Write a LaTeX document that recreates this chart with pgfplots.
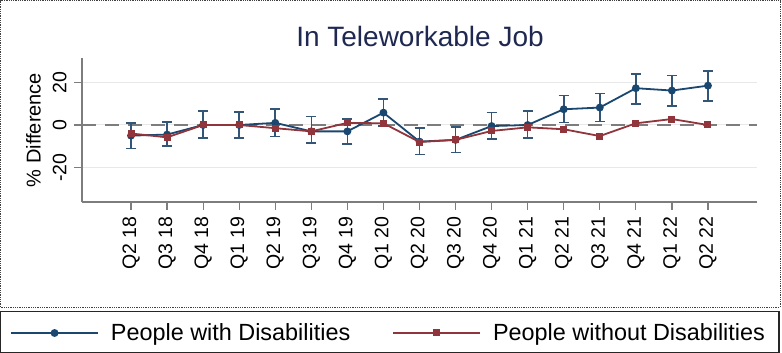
\documentclass[border=0pt]{standalone}
\usepackage{fontspec}
\setmainfont{Liberation Sans}
\usepackage{pgfplots}
\pgfplotsset{compat=1.18}
\usepackage{pgfplotstable}
\definecolor{sblue}{RGB}{26,71,111}
\definecolor{ebar}{RGB}{50,85,120}
\definecolor{sred}{RGB}{144,53,59}
\definecolor{titlec}{RGB}{30,40,80}
\definecolor{axgray}{RGB}{125,125,125}
\definecolor{gridc}{RGB}{232,232,232}

\pgfplotstableread{
x y ep em
0 -5 6 6
1 -4.5 6 5.5
2 0 6.6 6
3 0 6.2 6
4 1 6.4 6.5
5 -3 7 5.6
6 -3 5.7 6
7 5.8 6.4 6.3
8 -7.8 6.5 6
9 -7 6.2 6
10 -0.5 6.3 6.2
11 0 6.7 6
12 7.4 6.4 6.3
13 8.2 6.7 6.6
14 17.3 6.7 7.4
15 16.2 7 7.3
16 18.5 6.9 7.1
}\bluedata

\pgfplotstableread{
x y
0 -4
1 -5.8
2 0
3 0
4 -1.5
5 -3
6 1
7 0.8
8 -8
9 -7
10 -2.8
11 -1.1
12 -2
13 -5.2
14 0.8
15 2.8
16 0
}\reddata

\begin{document}
\begin{tikzpicture}
\useasboundingbox (0,0) rectangle (782pt,353pt);
\fill[white] (0,0) rectangle (782pt,353pt);
\draw[densely dotted, black!75, line width=0.8pt] (0.6pt,46pt) rectangle (780pt,352.4pt);
\draw[black!85, line width=1.3pt] (0.6pt,0.6pt) rectangle (779pt,41.5pt);
\node[font=\fontsize{28}{28}\selectfont, text=titlec] at (420pt,317pt) {In Teleworkable Job};
\begin{axis}[
  scale only axis, width=675pt, height=144pt,
  at={(82pt,151pt)}, anchor=south west,
  xmin=-1.36, xmax=17.36, ymin=-36.2, ymax=31.5,
  axis x line*=bottom, axis y line*=left,
  axis line style={axgray, line width=1.3pt},
  xtick={0,...,16},
  xticklabels={Q2 18,Q3 18,Q4 18,Q1 19,Q2 19,Q3 19,Q4 19,Q1 20,Q2 20,Q3 20,Q4 20,Q1 21,Q2 21,Q3 21,Q4 21,Q1 22,Q2 22},
  ytick={-20,0,20}, yticklabels={-20,0,20},
  tick align=outside, major tick length=8pt,
  tick style={axgray, line width=1.2pt},
  ymajorgrids, grid style={gridc, line width=1pt},
  tick label style={font=\fontsize{19.5}{19.5}\selectfont},
  xticklabel style={rotate=90, anchor=east, xshift=-3pt},
  yticklabel style={rotate=90, anchor=south, yshift=4pt},
  ylabel={\% Difference},
  ylabel style={font=\fontsize{20}{20}\selectfont, at={(axis description cs:-0.072,0.5)}, anchor=center},
  legend style={at={(axis description cs:-0.1067,-0.9097)}, anchor=west, draw=none, fill=none,
    font=\fontsize{23.4}{23.4}\selectfont, legend columns=2,
    /tikz/every even column/.append style={column sep=40pt},
    /tikz/every odd column/.append style={column sep=10pt},
    inner sep=0pt},
  legend cell align=left,
  legend image code/.code={\draw[mark repeat=2,mark phase=2,#1] plot coordinates {(0pt,0pt) (43.5pt,0pt) (87pt,0pt)};},
  clip=false,
]
\addplot[axgray, line width=1.3pt, dash pattern=on 14pt off 9pt, forget plot] coordinates {(-1.36,0) (17.36,0)};
\addplot[sblue, line width=1.8pt, mark=*, mark size=3pt,
  error bars/.cd, y dir=both, y explicit,
  error bar style={line width=1.6pt, ebar},
  error mark options={rotate=90, line width=1.6pt, mark size=5pt, ebar}]
  table[x=x, y=y, y error plus=ep, y error minus=em] {\bluedata};
\addlegendentry{People with Disabilities}
\addplot[sred, line width=1.8pt, mark=square*, mark size=2.6pt]
  table[x=x, y=y] {\reddata};
\addlegendentry{People without Disabilities}
\end{axis}
\end{tikzpicture}
\end{document}
